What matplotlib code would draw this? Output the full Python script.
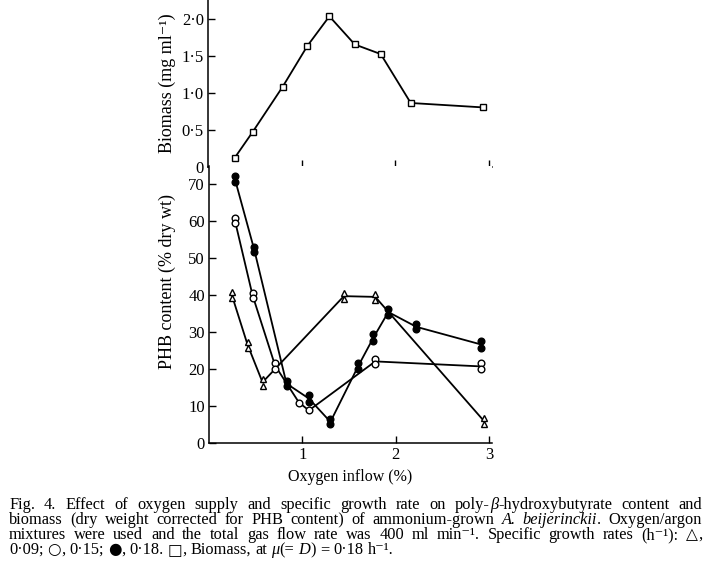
import matplotlib
matplotlib.use("Agg")
import matplotlib.pyplot as plt
import numpy as np

W, H = 707, 568

# --- biomass (mg/ml) at mu = 0.18 h-1 ---------------------------------------
bio_x = [0.285, 0.477, 0.797, 1.06, 1.295, 1.566, 1.843, 2.163, 2.938]
bio_y = [0.12, 0.47, 1.08, 1.63, 2.03, 1.65, 1.52, 0.86, 0.80]

# --- PHB content (% dry wt), duplicate readings a / b ------------------------
tri_x = [0.245, 0.413, 0.573, 1.444, 1.78, 2.945]          # 0.09 h-1
tri_a = [40.9, 27.4, 17.5, 40.7, 40.5, 6.9]
tri_b = [39.2, 25.9, 15.5, 38.9, 38.7, 5.1]

opn_x = [0.277, 0.466, 0.708, 0.964, 1.07, 1.78, 2.91]      # 0.15 h-1
opn_a = [61.0, 40.7, 21.8, 11.0, 8.9, 22.9, 21.6]
opn_b = [59.6, 39.4, 20.2, np.nan, np.nan, 21.4, 20.0]

fil_x = [0.277, 0.484, 0.83, 1.07, 1.30, 1.60, 1.76, 1.92, 2.22, 2.91]   # 0.18 h-1
fil_a = [72.4, 53.1, 16.8, 13.0, 6.5, 21.8, 29.5, 36.4, 32.2, 27.6]
fil_b = [70.6, 51.7, 15.5, 11.2, 5.1, 20.2, 27.6, 34.6, 30.8, 25.9]

bio_ticks = [0, 0.5, 1.0, 1.5, 2.0]
bio_labels = ["0", "0·5", "1·0", "1·5", "2·0"]
phb_ticks = [0, 10, 20, 30, 40, 50, 60, 70]
x_ticks = [1, 2, 3]

# "*" toggles italic, "^" toggles the symbol font
caption = [
    "Fig. 4. Effect of oxygen supply and specific growth rate on poly-*β*-hydroxybutyrate content and",
    "biomass (dry weight corrected for PHB content) of ammonium-grown *A. beijerinckii*. Oxygen/argon",
    "mixtures were used and the total gas flow rate was 400 ml min⁻¹. Specific growth rates (h⁻¹): ^△^,",
    "0·09; ^○^, 0·15; ^●^, 0·18. ^□^, Biomass, at *μ*(= *D*) = 0·18 h⁻¹.",
]
CAP_SIZE = 11.8

SERIF = ["Liberation Serif", "DejaVu Serif"]
SYMBOL = ["DejaVu Sans"]
plt.rcParams["font.family"] = SERIF
plt.rcParams["font.size"] = 12


def style_axis(ax):
    for side in ("top", "right"):
        ax.spines[side].set_visible(False)
    for side in ("left", "bottom"):
        ax.spines[side].set_linewidth(1.1)
    ax.tick_params(direction="in", length=5, width=1.0, labelsize=12, pad=3)
    ax.set_xlim(0, 3.03)
    ax.set_xticks(x_ticks)


def duplicate_series(ax, x, a, b, marker, face):
    a = np.asarray(a, dtype=float)
    b = np.asarray(b, dtype=float)
    mean = np.nanmean(np.vstack([a, b]), axis=0)
    ax.plot(x, mean, color="black", lw=1.3, zorder=2)
    for vals in (a, b):
        ax.plot(x, vals, ls="none", marker=marker, ms=4.8, mfc=face,
                mec="black", mew=1.0, zorder=3)


def split_words(text):
    # returns a list of words, each a list of (chunk, italic, symbol)
    words, italic, symbol = [], False, False
    for raw in text.split(" "):
        pieces, buf = [], ""
        for ch in raw:
            if ch in "*^":
                if buf:
                    pieces.append((buf, italic, symbol))
                    buf = ""
                if ch == "*":
                    italic = not italic
                else:
                    symbol = not symbol
            else:
                buf += ch
        if buf:
            pieces.append((buf, italic, symbol))
        words.append(pieces)
    return words


def make_piece(fig, chunk, it, sym, size, y=0.0):
    return fig.text(0, y, chunk, va="baseline",
                    fontsize=size * 0.95 if sym else size,
                    family=SYMBOL if sym else SERIF,
                    style="italic" if it else "normal")


def caption_line(fig, renderer, words, x0, x1, y, size, justify=True):
    placed, widths = [], []
    for pieces in words:
        items, total = [], 0.0
        for chunk, it, sym in pieces:
            t = make_piece(fig, chunk, it, sym, size, 1 - y / H)
            w = t.get_window_extent(renderer=renderer).width
            items.append((t, total))
            total += w
        placed.append(items)
        widths.append(total)

    space = size * fig.dpi / 72 * 0.25
    if justify and len(words) > 1:
        space = (x1 - x0 - sum(widths)) / (len(words) - 1)
    x = x0
    for items, w in zip(placed, widths):
        for t, off in items:
            t.set_x((x + off) / W)
        x += w + space


fig = plt.figure(figsize=(W / 100, H / 100), dpi=100)
renderer = fig.canvas.get_renderer()

# upper panel: biomass
ax_top = fig.add_axes([208 / W, 1 - 166.7 / H, (492 - 208) / W, 166.7 / H])
style_axis(ax_top)
ax_top.plot(bio_x, bio_y, color="black", lw=1.3, marker="s", ms=4.8,
            mfc="white", mec="black", mew=1.0)
ax_top.set_ylim(0, 2.25)
ax_top.set_yticks(bio_ticks)
ax_top.set_yticklabels(bio_labels)
ax_top.tick_params(axis="x", labelbottom=False)
ax_top.set_ylabel("Biomass (mg ml⁻¹)", fontsize=13, va="center")
ax_top.yaxis.set_label_coords(-0.144, 0.5)

# lower panel: PHB content
ax_bot = fig.add_axes([209 / W, 1 - 443.3 / H, (492 - 209) / W, (443.3 - 166) / H])
style_axis(ax_bot)
duplicate_series(ax_bot, tri_x, tri_a, tri_b, "^", "white")
duplicate_series(ax_bot, opn_x, opn_a, opn_b, "o", "white")
duplicate_series(ax_bot, fil_x, fil_a, fil_b, "o", "black")
ax_bot.set_ylim(0, 75)
ax_bot.set_yticks(phb_ticks)
ax_bot.set_ylabel("PHB content (% dry wt)", fontsize=13, va="center")
ax_bot.yaxis.set_label_coords(-0.148, 0.585)
ax_bot.set_xlabel("Oxygen inflow (%)", fontsize=11.5, labelpad=4)

# caption, justified except for the last line
x_left, x_right = 9, 702
baselines = [509, 524, 539, 554]
for i, (line, yb) in enumerate(zip(caption, baselines)):
    caption_line(fig, renderer, split_words(line), x_left, x_right, yb,
                 CAP_SIZE, justify=i < len(caption) - 1)

fig.savefig("out.png", dpi=100)
plt.close(fig)
